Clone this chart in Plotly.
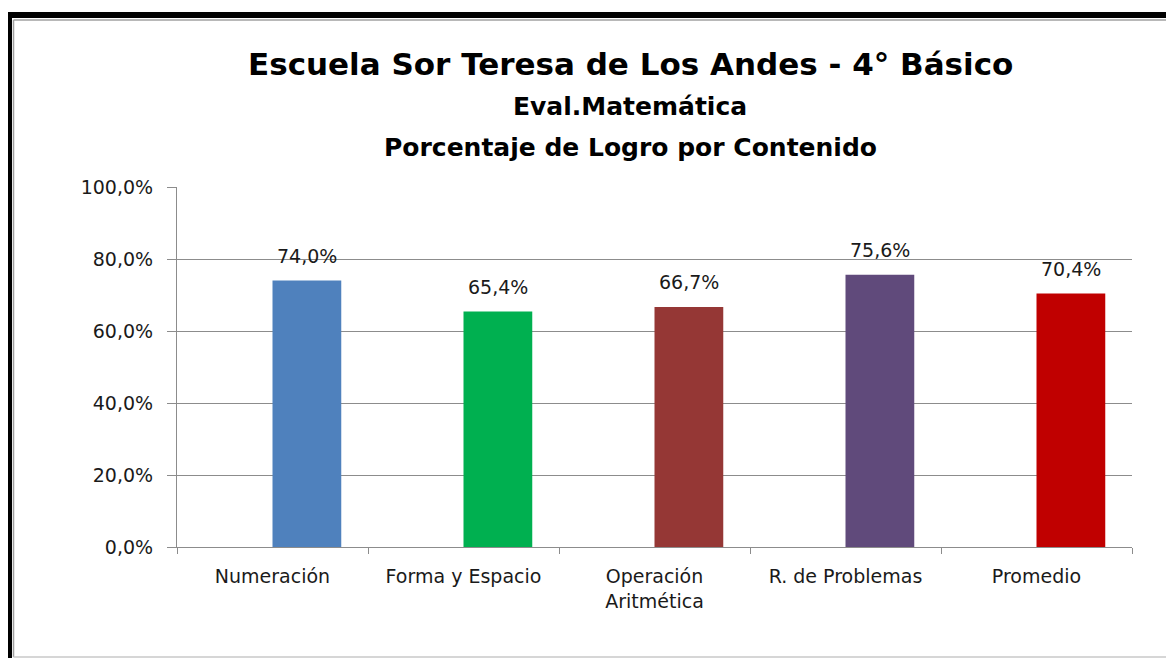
import plotly.graph_objects as go

categories = ["Numeración", "Forma y Espacio", "Operación<br>Aritmética", "R. de Problemas", "Promedio"]
values = [0.740, 0.654, 0.667, 0.756, 0.704]
bar_colors = ["#4F81BD", "#00B050", "#953735", "#604A7B", "#C00000"]
y_ticks = [0, 0.2, 0.4, 0.6, 0.8, 1.0]

OFF = 8  # default page body margin
W, H = 1174 - OFF, 658 - OFF
# plot area in reference-page pixels
L, R, T, B = 177, 1132, 187, 547
BAR_W = 0.36

def px(x):
    return (x - L) / (R - L)

def py(y):
    return (B - y) / (B - T)

FONT = "DejaVu Sans"
TXT = "#1a1a1a"

fig = go.Figure()
fig.add_trace(go.Bar(
    x=categories, y=values,
    marker=dict(color=bar_colors, line=dict(width=0)),
    width=BAR_W, offset=0,
))

shapes = [
    dict(type="rect", xref="paper", yref="paper", x0=px(0), x1=px(1190), y0=py(18), y1=py(12),
         fillcolor="black", line=dict(width=0), layer="above"),
    dict(type="rect", xref="paper", yref="paper", x0=px(6), x1=px(12), y0=py(680), y1=py(12),
         fillcolor="black", line=dict(width=0), layer="above"),
    dict(type="line", xref="paper", yref="paper", x0=px(13.5), x1=px(1190), y0=py(20), y1=py(20),
         line=dict(color="#A0A0A0", width=1.5)),
    dict(type="line", xref="paper", yref="paper", x0=px(13.5), x1=px(13.5), y0=py(20), y1=py(657),
         line=dict(color="#A0A0A0", width=1.5)),
    dict(type="line", xref="paper", yref="paper", x0=px(13.5), x1=px(1190), y0=py(657), y1=py(657),
         line=dict(color="#C8C8C8", width=1.5)),
]

annotations = [
    dict(text="<b>Escuela Sor Teresa de Los Andes - 4° Básico</b>", x=px(630), y=py(64),
         xref="paper", yref="paper", showarrow=False, xanchor="center", yanchor="middle",
         font=dict(size=31, color="black", family=FONT)),
    dict(text="<b>Eval.Matemática</b>", x=px(630), y=py(107),
         xref="paper", yref="paper", showarrow=False, xanchor="center", yanchor="middle",
         font=dict(size=25, color="black", family=FONT)),
    dict(text="<b>Porcentaje de Logro por Contenido</b>", x=px(630), y=py(147),
         xref="paper", yref="paper", showarrow=False, xanchor="center", yanchor="middle",
         font=dict(size=25, color="black", family=FONT)),
]
for i, v in enumerate(values):
    annotations.append(dict(
        text=f"{v*100:.1f}%".replace(".", ","), x=i + BAR_W / 2, y=v,
        xref="x", yref="y", showarrow=False, xanchor="center", yanchor="bottom",
        yshift=12, font=dict(size=19, color=TXT, family=FONT),
    ))

fig.update_layout(
    width=W, height=H,
    margin=dict(l=L - OFF, r=W - (R - OFF), t=T - OFF, b=H - (B - OFF), pad=0),
    paper_bgcolor="white", plot_bgcolor="white",
    separators=",.",
    showlegend=False,
    shapes=shapes,
    annotations=annotations,
    font=dict(family=FONT, size=19, color=TXT),
)
fig.update_yaxes(
    range=[0, 1.0], tickvals=y_ticks, tickformat=".1%",
    showgrid=True, gridcolor="#8C8C8C", gridwidth=1.2,
    showline=True, linecolor="#8C8C8C", linewidth=1.2,
    ticks="outside", ticklen=9, tickcolor="#8C8C8C",
    ticklabelstandoff=10,
    tickfont=dict(size=19, color=TXT, family=FONT),
    zeroline=False,
)
fig.update_xaxes(
    range=[-0.5, 4.5],
    showline=True, linecolor="#8C8C8C", linewidth=1.2,
    ticks="outside", ticklen=6, tickcolor="#8C8C8C", tickson="boundaries",
    ticklabelstandoff=12,
    tickfont=dict(size=19, color=TXT, family=FONT),
    showgrid=False,
)

fig.write_html("out.html")
